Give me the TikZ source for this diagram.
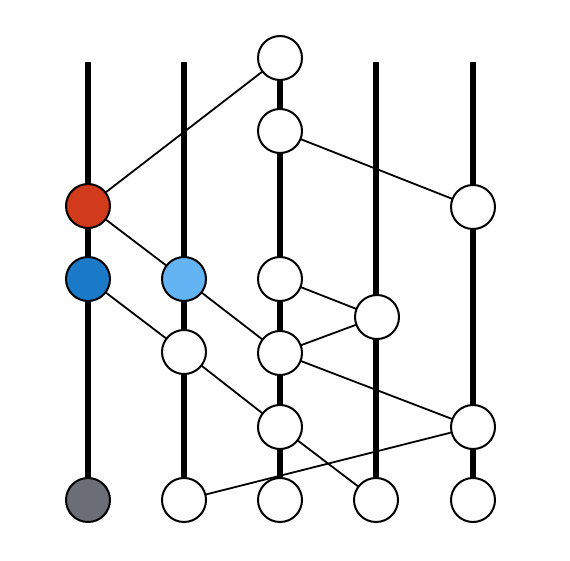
\documentclass[tikz,border=0pt]{standalone}
\definecolor{cred}{HTML}{D13A1B}
\definecolor{cblue}{HTML}{1A7AC8}
\definecolor{clight}{HTML}{64B4F4}
\definecolor{cgray}{HTML}{6B6E76}
\tikzset{
  pt/.style={circle,draw=black,line width=2pt,minimum size=44pt,inner sep=0pt,fill=white},
  edge/.style={line width=1.8pt},
  rail/.style={line width=6pt}
}
\begin{document}
\begin{tikzpicture}[x=1pt,y=-1pt]
\useasboundingbox (0,0) rectangle (570,560);
% coordinates
\coordinate (t1) at (88,62);
\coordinate (t2) at (184,62);
\coordinate (t4) at (376,62);
\coordinate (t5) at (473,62);
\path
  (280,58) coordinate (pA)
  (280,131) coordinate (pB)
  (88,206) coordinate (pR)
  (473,207) coordinate (pC)
  (88,279) coordinate (pD)
  (184,279) coordinate (pL)
  (280,279) coordinate (pE)
  (377,317) coordinate (pF)
  (184,352) coordinate (pG)
  (280,353) coordinate (pH)
  (280,427) coordinate (pI)
  (473,427) coordinate (pJ)
  (88,500) coordinate (b1)
  (184,500) coordinate (b2)
  (280,500) coordinate (b3)
  (376,500) coordinate (b4)
  (473,500) coordinate (b5);
% thin edges
\draw[edge] (pA) -- (pR);
\draw[edge] (pB) -- (pC);
\draw[edge] (pR) -- (pL);
\draw[edge] (pL) -- (pH);
\draw[edge] (pD) -- (pG);
\draw[edge] (pG) -- (pI);
\draw[edge] (pE) -- (pF);
\draw[edge] (pF) -- (pH);
\draw[edge] (pH) -- (pJ);
\draw[edge] (pI) -- (b4);
\draw[edge] (pJ) -- (b2);
% rails
\draw[rail] (t1) -- (b1);
\draw[rail] (t2) -- (b2);
\draw[rail] (pA) -- (b3);
\draw[rail] (t4) -- (b4);
\draw[rail] (t5) -- (b5);
% nodes
\node[pt] (nA) at (pA) {};
\node[pt] (nB) at (pB) {};
\node[pt,fill=cred] (nR) at (pR) {};
\node[pt] (nC) at (pC) {};
\node[pt,fill=cblue] (nD) at (pD) {};
\node[pt,fill=clight] (nL) at (pL) {};
\node[pt] (nE) at (pE) {};
\node[pt] (nF) at (pF) {};
\node[pt] (nG) at (pG) {};
\node[pt] (nH) at (pH) {};
\node[pt] (nI) at (pI) {};
\node[pt] (nJ) at (pJ) {};
\node[pt,fill=cgray] (nb1) at (b1) {};
\node[pt] (nb2) at (b2) {};
\node[pt] (nb3) at (b3) {};
\node[pt] (nb4) at (b4) {};
\node[pt] (nb5) at (b5) {};
\end{tikzpicture}
\end{document}
